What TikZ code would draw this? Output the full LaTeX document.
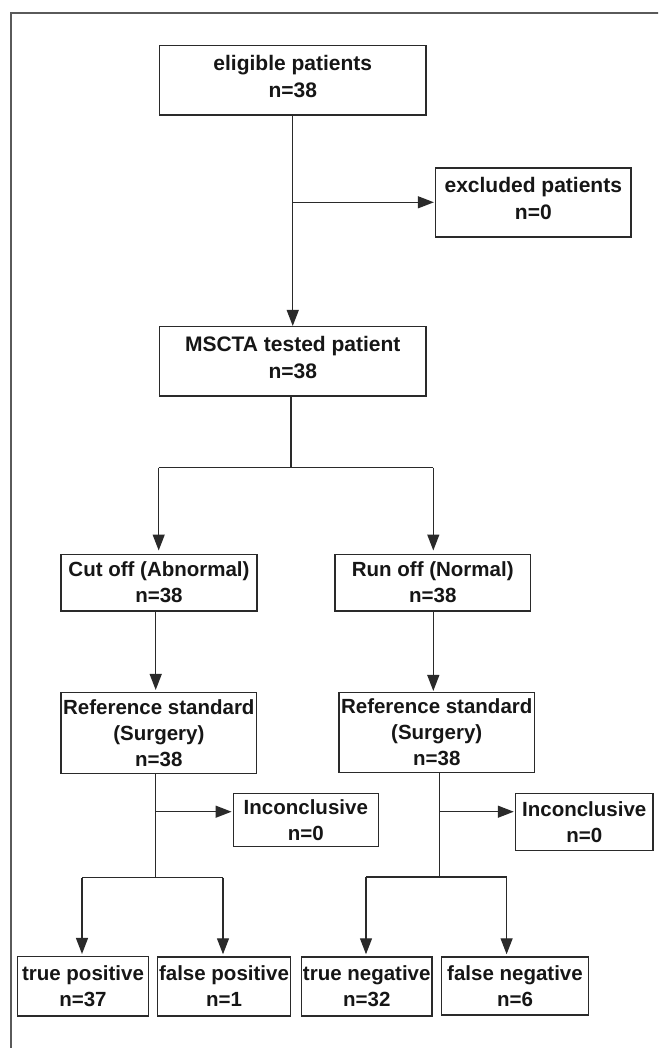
\documentclass[tikz,border=0pt]{standalone}
\usepackage{fontspec}
\setmainfont{Liberation Sans}
\usetikzlibrary{arrows.meta}
\definecolor{linec}{HTML}{2A2A2A}
\definecolor{textc}{HTML}{161616}
\definecolor{framec}{HTML}{5A5A5A}
\begin{document}
\begin{tikzpicture}[x=1pt,y=-1pt,
  box/.style={draw=linec, line width=1.5pt, inner sep=0pt, align=center,
    font=\bfseries\fontsize{20.5}{26}\selectfont, text=textc},
  topbox/.style={box, font=\bfseries\fontsize{21}{27.5}\selectfont, text depth=8pt},
  conn/.style={draw=linec, line width=1.3pt},
  arr/.style={conn, -{Triangle[length=16pt,width=12pt]}, shorten >=2pt}]
\useasboundingbox (0,0) rectangle (658,1048);
\clip (0,0) rectangle (658,1048);
\fill[white] (0,0) rectangle (658,1048);
% frame
\draw[framec, line width=1.7pt] (10.7,1070) -- (10.7,12.7) -- (680,12.7);
% boxes
\node[topbox, minimum width=266.5pt, minimum height=69.3pt] (elig) at (292.75,80.35) {eligible patients\\n=38};
\node[topbox, minimum width=195.4pt, minimum height=69pt] (excl) at (533.3,202.5) {excluded patients\\n=0};
\node[topbox, minimum width=266.5pt, minimum height=69.3pt] (msc) at (292.75,361.35) {MSCTA tested patient\\n=38};
\node[box, minimum width=196pt, minimum height=56.5pt] (cut) at (159,582.5) {Cut off (Abnormal)\\n=38};
\node[box, minimum width=195.5pt, minimum height=56.5pt] (run) at (432.75,582.5) {Run off (Normal)\\n=38};
\node[box, minimum width=195.7pt, minimum height=80.6pt] (refL) at (158.85,733) {Reference standard\\(Surgery)\\n=38};
\node[box, minimum width=195.5pt, minimum height=79.6pt] (refR) at (436.75,732.5) {Reference standard\\(Surgery)\\n=38};
\node[box, minimum width=145pt, minimum height=53.4pt] (incL) at (305.8,820) {Inconclusive\\n=0};
\node[box, minimum width=137.5pt, minimum height=57.4pt] (incR) at (584.25,822) {Inconclusive\\n=0};
\node[box, minimum width=131.4pt, minimum height=59.3pt] (tp) at (83,986.35) {true positive\\n=37};
\node[box, minimum width=133pt, minimum height=59pt] (fp) at (224,986.5) {false positive\\n=1};
\node[box, minimum width=130.5pt, minimum height=59pt] (tn) at (366.75,986.5) {true negative\\n=32};
\node[box, minimum width=147pt, minimum height=58pt] (fn) at (515,986) {false negative\\n=6};
% junction coordinates
\coordinate (j1) at (292.75,202.3);
\coordinate (j2) at (291,467.7);
\coordinate (bl) at (158.7,467.7);
\coordinate (br) at (433.3,467.7);
\coordinate (cl) at (155.7,650);
\coordinate (cr) at (433.3,650);
\coordinate (kl) at (155.7,877.7);
\coordinate (il) at (155.7,811.7);
\coordinate (tl) at (82,877.7);
\coordinate (tr) at (223,877.7);
\coordinate (kr) at (439.7,877);
\coordinate (ir) at (439.7,811.7);
\coordinate (ul) at (366,877);
\coordinate (ur) at (506.6,877);
% connectors
\draw[arr, shorten >=0pt] (elig) -- (msc);
\draw[arr, shorten >=1pt] (j1) -- (j1 -| excl.west);
\draw[conn] (msc.south -| j2) -- (j2);
\draw[conn] (bl) -- (br);
\draw[arr, shorten >=3pt] (bl) -- (bl |- cut.north);
\draw[arr, shorten >=3pt] (br) -- (br |- run.north);
\draw[arr] (cut.south -| cl) -- (cl |- refL.north);
\draw[arr, shorten >=1pt] (run.south -| cr) -- (cr |- refR.north);
\draw[conn] (refL.south -| kl) -- (kl);
\draw[arr, shorten >=1pt] (il) -- (il -| incL.west);
\draw[conn] (tl) -- (tr);
\draw[arr] (tl) -- (tl |- tp.north);
\draw[arr] (tr) -- (tr |- fp.north);
\draw[conn] (refR.south -| kr) -- (kr);
\draw[arr, shorten >=1pt] (ir) -- (ir -| incR.west);
\draw[conn] (ul) -- (ur);
\draw[arr] (ul) -- (ul |- tn.north);
\draw[arr] (ur) -- (ur |- fn.north);
\end{tikzpicture}
\end{document}
